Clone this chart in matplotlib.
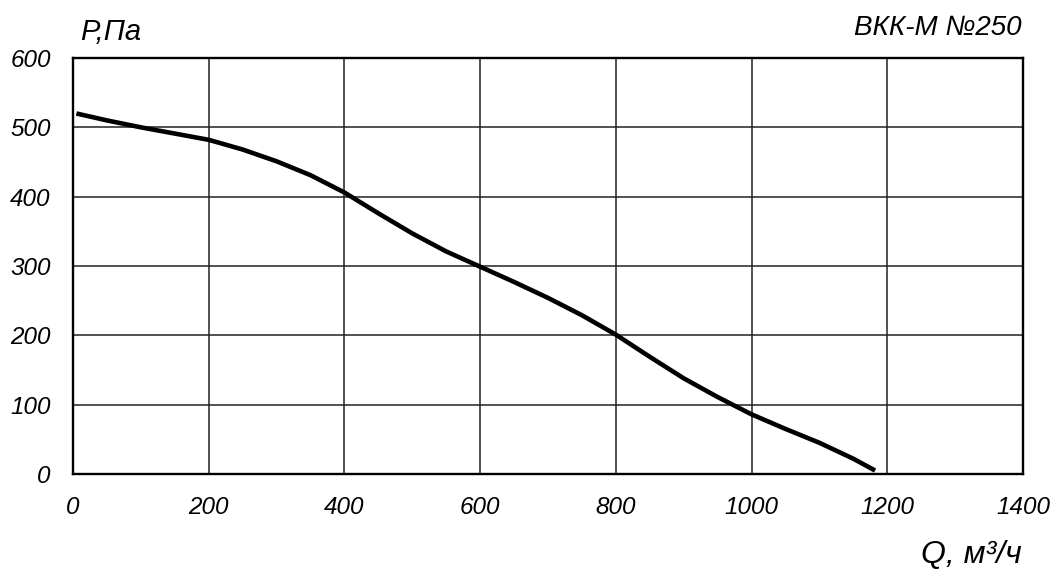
#!/usr/bin/env python3
"""Fan pressure curve for ВКК-М №250."""

import matplotlib

matplotlib.use("Agg")
import matplotlib.pyplot as plt

# airflow Q (m3/h) and pressure P (Pa)
flow = [5, 50, 100, 150, 200, 250, 300, 350, 400, 450, 500, 550, 600,
        650, 700, 750, 800, 850, 900, 950, 1000, 1050, 1100, 1150, 1182]
pressure = [520, 510, 500, 491, 482, 468, 451, 431, 406, 376, 347, 321, 299,
            277, 254, 229, 201, 169, 138, 111, 86, 65, 45, 22, 5]

x_ticks = [0, 200, 400, 600, 800, 1000, 1200, 1400]
y_ticks = [0, 100, 200, 300, 400, 500, 600]

FONT = dict(family=["Liberation Sans", "DejaVu Sans"], style="italic")

fig = plt.figure(figsize=(10.6, 5.84), dpi=100)
ax = fig.add_axes([73 / 1060, 1 - 474 / 584, 950 / 1060, 416 / 584])

ax.plot(flow, pressure, color="black", lw=3.3, solid_capstyle="butt", zorder=3)

ax.set_xlim(0, 1400)
ax.set_ylim(0, 600)
ax.set_xticks(x_ticks)
ax.set_yticks(y_ticks)
ax.set_xticklabels([str(v) for v in x_ticks], fontsize=17.5, **FONT)
ax.set_yticklabels([str(v) for v in y_ticks], fontsize=17.5, **FONT)
ax.tick_params(length=0, pad=16, axis="x")
ax.tick_params(length=0, pad=16, axis="y")
ax.grid(True, color="#222222", lw=1.1)
for s in ax.spines.values():
    s.set_linewidth(1.7)

fig.text(80 / 1060, 1 - 32 / 584, "P,Па", fontsize=21, ha="left", va="center", **FONT)
fig.text(1022 / 1060, 1 - 28 / 584, "ВКК-М №250", fontsize=20, ha="right", va="center", **FONT)
fig.text(1022 / 1060, 1 - 555 / 584, "Q, м³/ч", fontsize=23, ha="right", va="center", **FONT)

fig.savefig("out.png", dpi=100)
